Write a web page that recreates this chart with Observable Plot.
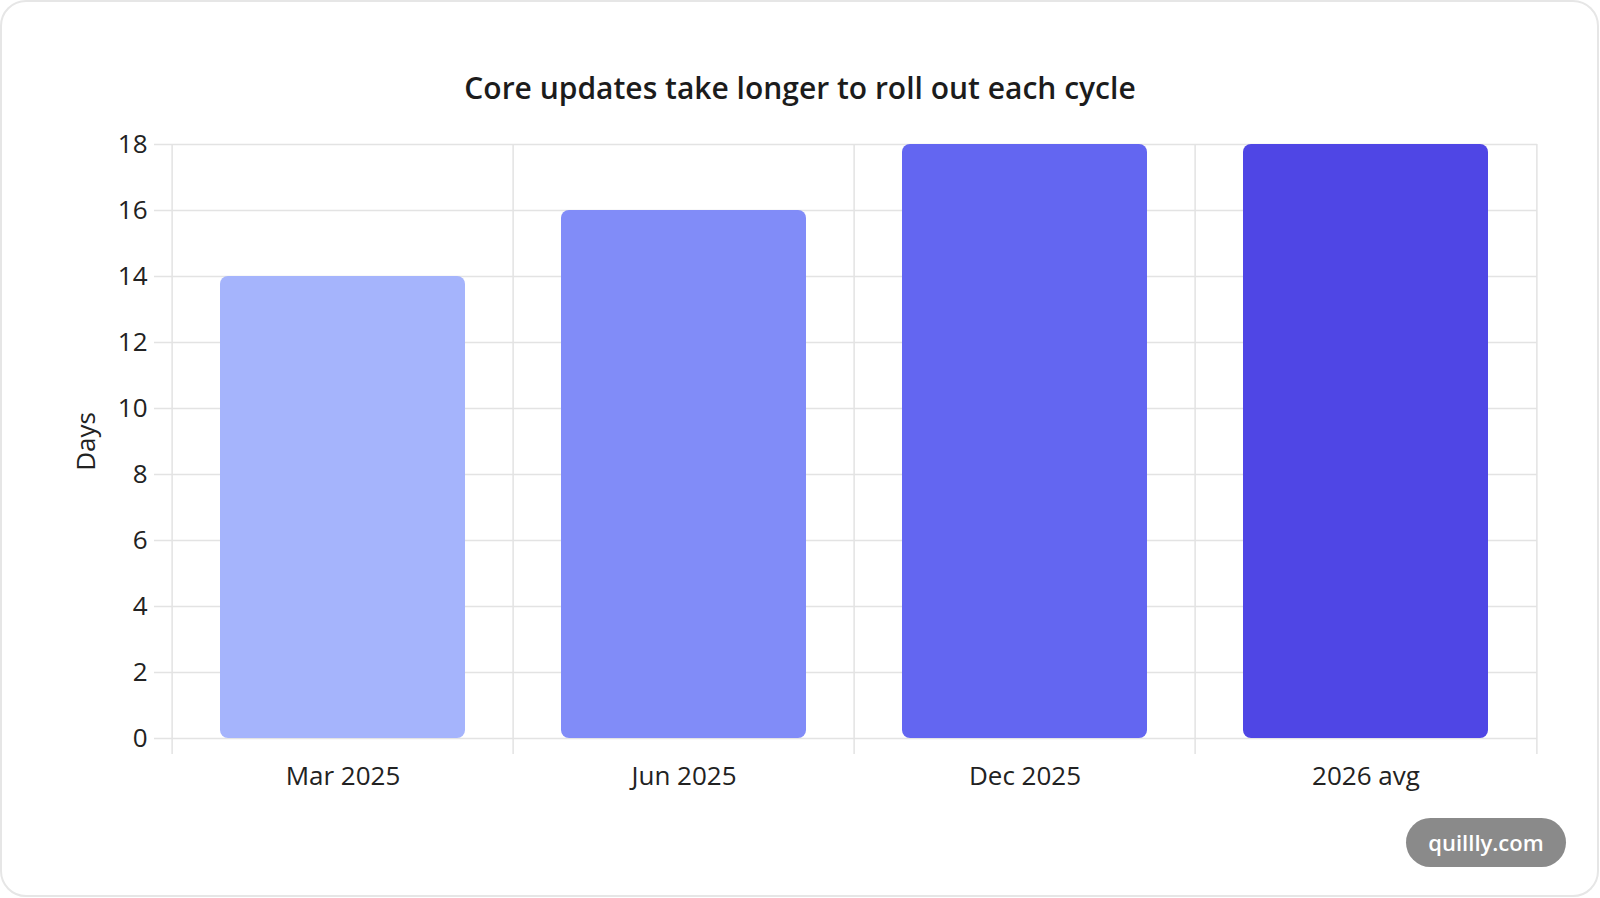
<!DOCTYPE html>
<html>
<head>
<meta charset="utf-8">
<script src="https://cdn.jsdelivr.net/npm/d3@7"></script>
<script src="https://cdn.jsdelivr.net/npm/@observablehq/plot@0.6"></script>
<style>
  html, body { margin: 0; padding: 0; background: #ffffff; }
  body { width: 1600px; height: 898px; overflow: hidden; font-family: "Open Sans", "Noto Sans", sans-serif; }
  .card {
    position: absolute; left: 0; top: 0; width: 1599px; height: 897px;
    border: 2px solid #e6e6e6; border-radius: 26px; background: #fff; box-sizing: border-box;
  }
  .title {
    position: absolute; left: 0; width: 1600px; top: 68px; text-align: center;
    font-size: 30px; font-weight: 600; color: #1c1c1c; line-height: 40px;
  }
  #chart { position: absolute; left: 0; top: 0; }
  .badge {
    position: absolute; left: 1406px; top: 818px; width: 160px; height: 49px;
    border-radius: 25px; background: #8a8a8a; color: #fff;
    font-size: 22px; font-weight: 600; line-height: 49px; text-align: center;
  }
</style>
</head>
<body>
<div class="card"></div>
<div id="chart"></div>
<div class="title">Core updates take longer to roll out each cycle</div>
<div class="badge">quillly.com</div>
<script>
// Rollout duration per core update cycle
const periods = ["Mar 2025", "Jun 2025", "Dec 2025", "2026 avg"];
const days = [14, 16, 18, 18];
const barColors = ["#a5b4fc", "#818cf8", "#6366f1", "#4f46e5"];
const yTicks = [0, 2, 4, 6, 8, 10, 12, 14, 16, 18];

const rows = periods.map((p, i) => ({period: p, days: days[i], color: barColors[i]}));

const W = 1600, H = 898;
const mL = 170, mR = 63, mT = 144, mB = 160;
const step = (W - mL - mR) / periods.length;
const gridColor = "#e3e3e3";

const chart = Plot.plot({
  width: W,
  height: H,
  marginLeft: mL,
  marginRight: mR,
  marginTop: mT,
  marginBottom: mB,
  style: {fontFamily: "'Open Sans', 'Noto Sans', sans-serif", fontSize: "26px", color: "#222", background: "transparent"},
  x: {domain: periods, padding: 0},
  y: {domain: [0, 18], ticks: yTicks},
  marks: [
    Plot.gridY(yTicks, {stroke: gridColor, strokeOpacity: 1, strokeWidth: 1.5}),
    // vertical separators between categories (plus the closing right edge), extended below the baseline
    Plot.ruleX(periods, {x: d => d, dx: -step / 2, y1: 18, y2: 0, insetBottom: -16, stroke: gridColor, strokeWidth: 1.5}),
    Plot.ruleX(periods.slice(-1), {x: d => d, dx: step / 2, y1: 18, y2: 0, insetBottom: -16, stroke: gridColor, strokeWidth: 1.5}),
    Plot.barY(rows, {x: "period", y: "days", fill: "color", insetLeft: 48, insetRight: 48, rx: 8}),
    Plot.axisY(yTicks, {
      tickSize: 16, tickPadding: 7, stroke: gridColor, strokeWidth: 1.5, fill: "#222",
      label: "Days", labelAnchor: "center", labelOffset: 94, labelArrow: "none"
    }),
    Plot.axisX(periods, {tickSize: 0, tickPadding: 28, label: null, fill: "#222"})
  ]
});
document.getElementById("chart").appendChild(chart);
</script>
</body>
</html>
